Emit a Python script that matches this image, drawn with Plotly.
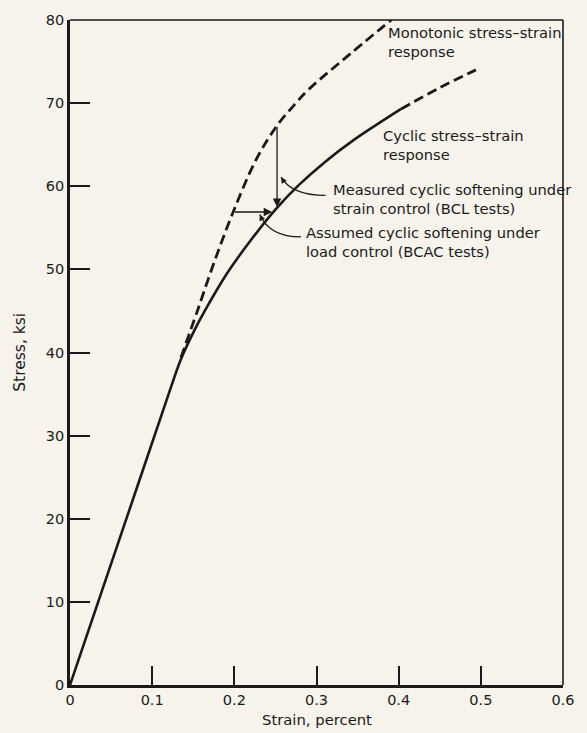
import plotly.graph_objects as go

# ---- data ----
cyclic_strain = [0.0, 0.070, 0.120, 0.135, 0.150, 0.164, 0.191, 0.220, 0.251, 0.278, 0.310, 0.343, 0.403]
cyclic_stress = [0.0, 20.4, 35.0, 39.2, 42.4, 45.0, 49.5, 53.5, 57.3, 60.1, 62.9, 65.4, 69.3]

cyclic_ext_strain = [0.403, 0.451, 0.494]
cyclic_ext_stress = [69.3, 71.9, 74.0]

mono_strain = [0.135, 0.155, 0.176, 0.199, 0.227, 0.252, 0.274, 0.290, 0.331, 0.391]
mono_stress = [39.4, 45.0, 51.0, 57.0, 63.3, 67.3, 69.9, 71.6, 75.1, 80.0]

# softening arrows: (tail strain, tail stress, head strain, head stress)
strain_ctrl_arrow = [0.252, 67.3, 0.252, 57.5]
load_ctrl_arrow = [0.199, 56.9, 0.246, 56.9]

x_ticks = [0, 0.1, 0.2, 0.3, 0.4, 0.5, 0.6]
x_tick_labels = ["0", "0.1", "0.2", "0.3", "0.4", "0.5", "0.6"]
y_ticks = [0, 10, 20, 30, 40, 50, 60, 70, 80]
y_tick_labels = ["0", "10", "20", "30", "40", "50", "60", "70", "80"]

labels = [
    ("Monotonic stress\u2013strain<br>response", 0.384, 77.4),
    ("Cyclic stress\u2013strain<br>response", 0.378, 65.0),
    ("Measured cyclic softening under<br>strain control (BCL tests)", 0.318, 58.5),
    ("Assumed cyclic softening under<br>load control (BCAC tests)", 0.285, 53.3),
]

# leader curves: start (arrowhead), control, end
leaders = [
    [(0.257, 61.1), (0.270, 58.9), (0.311, 58.9)],
    [(0.231, 56.6), (0.243, 53.9), (0.281, 53.9)],
]

ink = "#1c1a18"
paper = "#f5f3ec"
font_family = "DejaVu Sans, sans-serif"

fig = go.Figure()

fig.add_trace(go.Scatter(
    x=cyclic_strain, y=cyclic_stress, mode="lines",
    line=dict(color=ink, width=2.6, shape="spline", smoothing=1.0),
    hoverinfo="skip", showlegend=False))
fig.add_trace(go.Scatter(
    x=cyclic_ext_strain, y=cyclic_ext_stress, mode="lines",
    line=dict(color=ink, width=2.8, dash="10px,5px", shape="spline", smoothing=1.0),
    hoverinfo="skip", showlegend=False))
fig.add_trace(go.Scatter(
    x=mono_strain, y=mono_stress, mode="lines",
    line=dict(color=ink, width=2.8, dash="10px,5px", shape="spline", smoothing=1.0),
    hoverinfo="skip", showlegend=False))

annotations = []
for arr in (strain_ctrl_arrow, load_ctrl_arrow):
    annotations.append(dict(
        x=arr[2], y=arr[3], ax=arr[0], ay=arr[1],
        xref="x", yref="y", axref="x", ayref="y",
        text="", showarrow=True, arrowhead=2, arrowsize=1.3,
        arrowwidth=1.3, arrowcolor=ink))

shapes = []
for (s, c, e) in leaders:
    shapes.append(dict(
        type="path", xref="x", yref="y",
        path=f"M {s[0]},{s[1]} Q {c[0]},{c[1]} {e[0]},{e[1]}",
        line=dict(color=ink, width=1.3)))
    # small arrowhead at leader start
    annotations.append(dict(
        x=s[0], y=s[1], ax=s[0] + (c[0] - s[0]) * 0.3, ay=s[1] + (c[1] - s[1]) * 0.3,
        xref="x", yref="y", axref="x", ayref="y",
        text="", showarrow=True, arrowhead=2, arrowsize=1.0,
        arrowwidth=1.2, arrowcolor=ink))

for text, x, y in labels:
    annotations.append(dict(
        x=x, y=y, xref="x", yref="y", text=text, showarrow=False,
        xanchor="left", yanchor="middle", align="left",
        font=dict(family=font_family, size=14.7, color=ink)))

annotations.append(dict(
    x=-0.103, y=0.5, xref="paper", yref="paper", text="Stress, ksi",
    textangle=-90, showarrow=False, xanchor="center", yanchor="middle",
    font=dict(family=font_family, size=15.5, color=ink)))
annotations.append(dict(
    x=0.5, y=-0.052, xref="paper", yref="paper", text="Strain, percent",
    showarrow=False, xanchor="center", yanchor="middle",
    font=dict(family=font_family, size=14.8, color=ink)))

# top and right border (thinner than left/bottom axes)
shapes.append(dict(type="line", xref="paper", yref="paper", x0=0, x1=1, y0=1, y1=1,
                   line=dict(color=ink, width=1.6)))
shapes.append(dict(type="line", xref="paper", yref="paper", x0=1, x1=1, y0=0, y1=1,
                   line=dict(color=ink, width=1.6)))

fig.update_layout(
    width=587, height=733,
    margin=dict(l=70, r=15, t=15, b=48),
    paper_bgcolor=paper, plot_bgcolor=paper,
    showlegend=False,
    annotations=annotations, shapes=shapes,
    font=dict(family=font_family, color=ink),
)
fig.update_xaxes(
    range=[0, 0.6], tickvals=x_ticks, ticktext=x_tick_labels,
    ticks="inside", ticklen=19, tickwidth=1.5, tickcolor=ink,
    showline=True, linewidth=2.6, linecolor=ink, mirror=False,
    showgrid=False, zeroline=False,
    tickfont=dict(family=font_family, size=14.5, color=ink))
fig.update_yaxes(
    range=[0, 80], tickvals=y_ticks, ticktext=y_tick_labels,
    ticks="inside", ticklen=20, tickwidth=1.5, tickcolor=ink,
    showline=True, linewidth=2.6, linecolor=ink, mirror=False,
    showgrid=False, zeroline=False,
    tickfont=dict(family=font_family, size=14.5, color=ink))

fig.write_html("out.html")
